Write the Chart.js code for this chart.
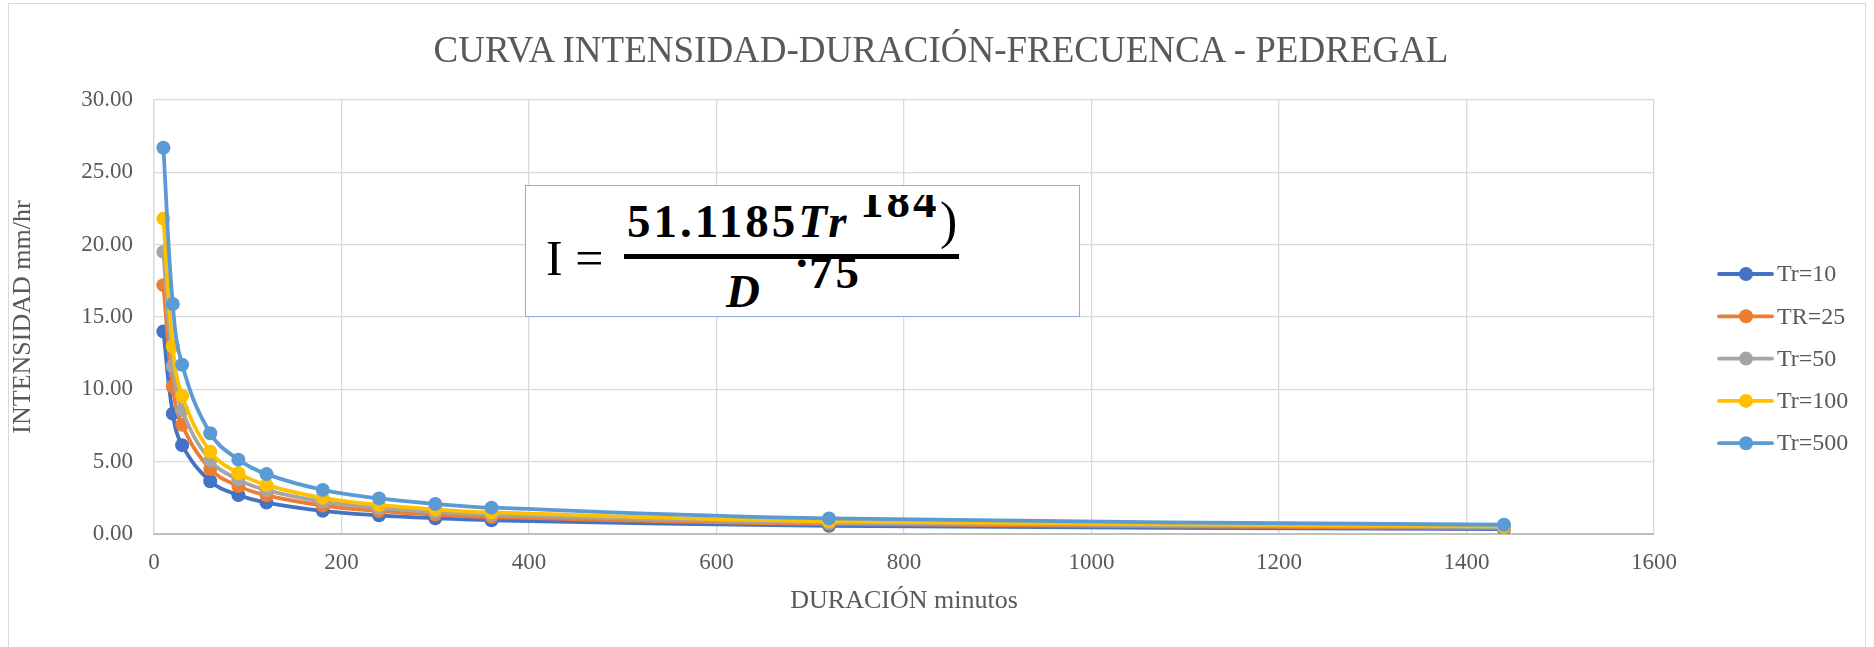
<!DOCTYPE html>
<html>
<head>
<meta charset="utf-8">
<script src="https://cdn.jsdelivr.net/npm/chart.js@4"></script>
<style>
    html, body { margin: 0; padding: 0; background: #fff; }
    #wrap { position: relative; width: 1874px; height: 647px; overflow: hidden; }
    #frame { position: absolute; left: 8px; top: 3px; width: 1858px; height: 700px; border: 1px solid #d9d9d9; box-sizing: border-box; }
    canvas { position: absolute; left: 0; top: 0; }
    .title { position: absolute; left: 0; width: 1882px; top: 28px; text-align: center; font: 37px "Liberation Serif", serif; color: #595959; white-space: nowrap; }
    .eqbox { position: absolute; left: 525px; top: 185px; width: 555px; height: 132px; border: 1.5px solid #8faadc; background: #fff; box-sizing: border-box; }
    .eq { position: absolute; font-family: "Liberation Serif", serif; color: #000; line-height: 1; white-space: nowrap; }
    .b { font-weight: bold; letter-spacing: 3px; }
    .bi { font-weight: bold; font-style: italic; }
</style>
</head>
<body>
<div id="wrap">
    <div id="frame"></div>
    <canvas id="idf" width="1874" height="647"></canvas>
    <div class="title">CURVA INTENSIDAD-DURACIÓN-FRECUENCA - PEDREGAL</div>
    <div class="eqbox"></div>
    <span class="eq" style="left:546px; top:233px; font-size:50px;">I =</span>
    <span class="eq b" style="left:627px; top:198px; font-size:47px;">51.1185<span class="bi">Tr</span></span>
    <div style="position:absolute; left:858px; top:195px; width:82px; height:30px; overflow:hidden;">
        <span class="eq b" style="left:2px; top:-17px; font-size:47px;">184</span>
    </div>
    <span class="eq" style="left:940px; top:195px; font-size:52px;">)</span>
    <div style="position:absolute; left:624px; top:254px; width:335px; height:5px; background:#000;"></div>
    <span class="eq bi" style="left:726px; top:268px; font-size:47px;">D</span>
    <span class="eq b" style="left:794px; top:240px; font-size:47px;">·</span>
    <span class="eq b" style="left:809px; top:249px; font-size:47px;">75</span>
</div>
<script>
const durations = [10, 20, 30, 60, 90, 120, 180, 240, 300, 360, 720, 1440];

const tr10 = [14.0, 8.32, 6.14, 3.65, 2.69, 2.17, 1.60, 1.29, 1.09, 0.95, 0.57, 0.34];
const tr25 = [17.2, 10.2, 7.55, 4.49, 3.31, 2.67, 1.97, 1.59, 1.34, 1.17, 0.70, 0.41];
const tr50 = [19.5, 11.6, 8.56, 5.09, 3.76, 3.03, 2.23, 1.80, 1.52, 1.33, 0.79, 0.47];
const tr100 = [21.8, 12.96, 9.56, 5.69, 4.20, 3.38, 2.50, 2.01, 1.70, 1.49, 0.88, 0.53];
const tr500 = [26.7, 15.9, 11.7, 6.96, 5.14, 4.14, 3.05, 2.46, 2.08, 1.82, 1.08, 0.64];

const seriesLabels = ["Tr=10", "TR=25", "Tr=50", "Tr=100", "Tr=500"];
const seriesColors = ["#4472C4", "#ED7D31", "#A5A5A5", "#FFC000", "#5B9BD5"];
const seriesValues = [tr10, tr25, tr50, tr100, tr500];

const FONT = "'Liberation Serif', serif";
const GREY_TEXT = "#595959";

// excel-style legend on the right: short line, marker in the middle, label
const sideLegend = {
    id: "sideLegend",
    afterDraw(chart) {
        const ctx = chart.ctx;
        ctx.save();
        chart.data.datasets.forEach((ds, i) => {
            const y = 274 + i * 42.3;
            ctx.strokeStyle = ds.borderColor;
            ctx.lineWidth = 3.8;
            ctx.lineCap = "round";
            ctx.beginPath();
            ctx.moveTo(1719, y);
            ctx.lineTo(1772, y);
            ctx.stroke();
            ctx.fillStyle = ds.borderColor;
            ctx.beginPath();
            ctx.arc(1746, y, 7, 0, Math.PI * 2);
            ctx.fill();
            ctx.fillStyle = GREY_TEXT;
            ctx.font = "24px " + FONT;
            ctx.textBaseline = "middle";
            ctx.fillText(ds.label, 1777, y + 1);
        });
        ctx.restore();
    },
};

const datasets = seriesValues.map((vals, i) => ({
    label: seriesLabels[i],
    data: durations.map((d, j) => ({ x: d, y: vals[j] })),
    borderColor: seriesColors[i],
    backgroundColor: seriesColors[i],
    borderWidth: 3.8,
    pointRadius: 7,
    pointBorderWidth: 0,
    tension: 0.4,
    order: seriesValues.length - i, // last series on top, like excel
}));

new Chart(document.getElementById("idf"), {
    type: "line",
    data: { datasets },
    options: {
        responsive: false,
        animation: false,
        layout: { padding: { top: 100, right: 220, bottom: 0, left: 0 } },
        plugins: {
            legend: { display: false },
            title: { display: false },
            tooltip: { enabled: false },
        },
        scales: {
            x: {
                type: "linear",
                min: 0,
                max: 1600,
                afterFit: (s) => { s.height = 113; },
                ticks: {
                    stepSize: 200,
                    padding: 15,
                    color: GREY_TEXT,
                    font: { family: FONT, size: 23 },
                    callback: (v) => String(v),
                },
                grid: { color: "#d9d9d9", lineWidth: 1.3, drawTicks: false },
                border: { color: "#bfbfbf", width: 2 },
                title: {
                    display: true,
                    text: "DURACIÓN minutos",
                    color: GREY_TEXT,
                    font: { family: FONT, size: 26 },
                    padding: { top: 0, bottom: 30 },
                },
            },
            y: {
                min: 0,
                max: 30,
                afterFit: (s) => { s.width = 154; },
                ticks: {
                    stepSize: 5,
                    padding: 21,
                    color: GREY_TEXT,
                    font: { family: FONT, size: 23 },
                    callback: (v) => v.toFixed(2),
                },
                grid: { color: "#d9d9d9", lineWidth: 1.3, drawTicks: false },
                border: { color: "#d9d9d9", width: 1.3 },
                title: {
                    display: true,
                    text: "INTENSIDAD mm/hr",
                    color: GREY_TEXT,
                    font: { family: FONT, size: 26 },
                    padding: { top: 8, bottom: 0 },
                },
            },
        },
    },
    plugins: [sideLegend],
});
</script>
</body>
</html>
